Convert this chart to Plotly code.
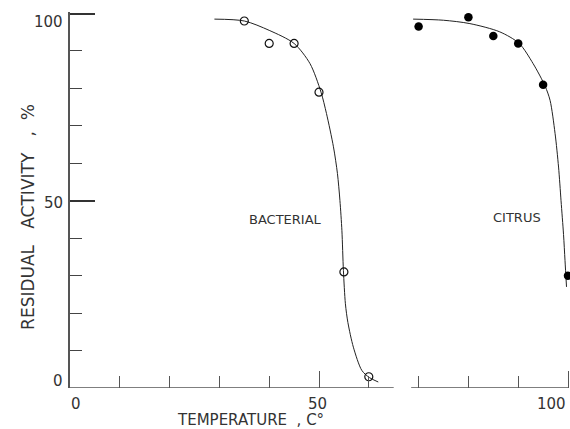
import plotly.graph_objects as go

# ---- data ----
bact_x = [35, 40, 45, 50, 55, 60]
bact_y = [98, 92, 92, 79, 31, 3]
citrus_x = [70, 80, 85, 90, 95, 100]
citrus_y = [96.5, 99, 94, 92, 81, 30]

bact_curve_x = [29, 35, 40, 45, 48.2, 50.4, 51.5, 52.9, 53.7, 54.2, 54.6, 54.9, 55.3, 55.8, 56.9, 58.6, 60.1, 61.9]
bact_curve_y = [98.5, 98, 95.5, 92, 86.6, 79, 73.3, 64.4, 57.3, 50.1, 42, 31.4, 22.5, 17.5, 10.9, 4.7, 2.8, 1.6]
citrus_curve_x = [68.9, 75, 80.3, 86.3, 90.2, 93, 95.4, 96.4, 97.4, 98.1, 98.6, 99.1, 99.4, 99.7]
citrus_curve_y = [98.5, 98.2, 97.3, 95.1, 92, 86.6, 80.6, 76.8, 68, 59, 50, 41, 34, 27]

axis_segments = [[0, 65], [68.5, 100]]

y_tick_vals = [0, 50, 100]
y_tick_text = ["0", "50", "100"]
x_tick_vals = [0, 50, 100]
x_tick_text = ["0", "50", "100"]

labels = ["BACTERIAL", "CITRUS"]
label_x = [43.2, 89.7]
label_y = [45, 45.5]

x_title = "TEMPERATURE\u00a0\u00a0,\u00a0C°"
y_title = "RESIDUAL\u00a0\u00a0\u00a0ACTIVITY\u00a0\u00a0\u00a0,\u00a0\u00a0%"

INK = "#333333"
FONT = "DejaVu Sans"

fig = go.Figure()

# broken x axis baseline
for seg in axis_segments:
    fig.add_trace(go.Scatter(x=seg, y=[0, 0], mode="lines",
                             line=dict(color="#555555", width=1.6),
                             hoverinfo="skip", showlegend=False, cliponaxis=False))

fig.add_trace(go.Scatter(x=bact_curve_x, y=bact_curve_y, mode="lines",
                         line=dict(color="#222222", width=1, shape="spline", smoothing=0.8),
                         showlegend=False, cliponaxis=False))
fig.add_trace(go.Scatter(x=citrus_curve_x, y=citrus_curve_y, mode="lines",
                         line=dict(color="#222222", width=1, shape="spline", smoothing=0.8),
                         showlegend=False, cliponaxis=False))

fig.add_trace(go.Scatter(x=bact_x, y=bact_y, mode="markers",
                         marker=dict(symbol="circle-open", size=8, color="#111111",
                                     line=dict(width=1.2, color="#111111")),
                         showlegend=False, cliponaxis=False))
fig.add_trace(go.Scatter(x=citrus_x, y=citrus_y, mode="markers",
                         marker=dict(symbol="circle", size=8.5, color="#000000"),
                         showlegend=False, cliponaxis=False))

annotations = []
# y tick labels
y_shifts = {0: 7, 50: -2, 100: -8}
for v, t in zip(y_tick_vals, y_tick_text):
    annotations.append(dict(x=0, y=v, xref="x", yref="y", text=t, showarrow=False,
                            xanchor="right", yanchor="middle", xshift=-5, yshift=y_shifts[v],
                            font=dict(family=FONT, size=15, color=INK)))
# x tick labels
x_anchor = {0: ("center", 6), 50: ("center", -2), 100: ("right", 0)}
for v, t in zip(x_tick_vals, x_tick_text):
    anc, sh = x_anchor[v]
    annotations.append(dict(x=v, y=0, xref="x", yref="y", text=t, showarrow=False,
                            xanchor=anc, yanchor="top", xshift=sh, yshift=-5,
                            font=dict(family=FONT, size=15, color=INK)))
for t, lx, ly in zip(labels, label_x, label_y):
    annotations.append(dict(x=lx, y=ly, xref="x", yref="y", text=t, showarrow=False,
                            xanchor="center", yanchor="middle",
                            font=dict(family=FONT, size=13, color=INK)))
annotations.append(dict(x=0.361, y=-0.085, xref="paper", yref="paper", text=x_title,
                        showarrow=False, xanchor="center", yanchor="middle",
                        font=dict(family=FONT, size=15, color=INK)))
annotations.append(dict(x=-0.084, y=0.455, xref="paper", yref="paper", text=y_title,
                        showarrow=False, xanchor="center", yanchor="middle", textangle=-90,
                        font=dict(family=FONT, size=17, color=INK)))

fig.update_layout(
    width=570, height=429,
    margin=dict(l=70, r=0, t=12, b=41),
    paper_bgcolor="white", plot_bgcolor="white",
    annotations=annotations,
    xaxis=dict(range=[0, 100.4], showline=False, showgrid=False, zeroline=False,
               showticklabels=False, ticks="inside", tick0=0, dtick=50, ticklen=17,
               tickwidth=1.4, tickcolor="#555555",
               minor=dict(dtick=10, tick0=0, ticks="inside", ticklen=12, tickwidth=1.2,
                          tickcolor="#555555", showgrid=False)),
    yaxis=dict(range=[0, 100.4], showline=True, linecolor="#555555", linewidth=1.6,
               showgrid=False, zeroline=False, showticklabels=False,
               ticks="inside", tick0=0, dtick=50, ticklen=25, tickwidth=1.5,
               tickcolor="#333333",
               minor=dict(dtick=10, tick0=0, ticks="inside", ticklen=12, tickwidth=1.3,
                          tickcolor="#444444", showgrid=False)),
)

# remove the default page margin so the figure fills the window exactly
fig.write_html("out.html", config={"displayModeBar": False},
               post_script="document.body.style.margin='0';document.body.style.overflow='hidden';")
